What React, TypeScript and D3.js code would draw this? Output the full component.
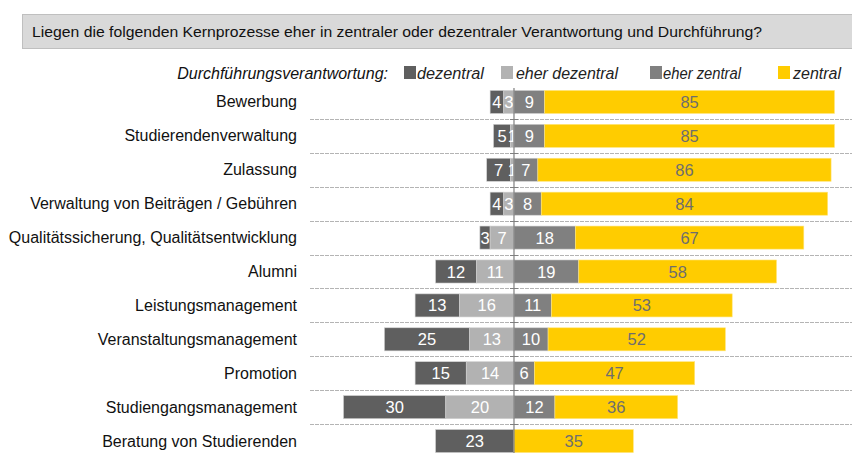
import React from "react";
import * as d3 from "d3";

const categories = [
  "Bewerbung",
  "Studierendenverwaltung",
  "Zulassung",
  "Verwaltung von Beiträgen / Gebühren",
  "Qualitätssicherung, Qualitätsentwicklung",
  "Alumni",
  "Leistungsmanagement",
  "Veranstaltungsmanagement",
  "Promotion",
  "Studiengangsmanagement",
  "Beratung von Studierenden",
];
const dezentral = [4, 5, 7, 4, 3, 12, 13, 25, 15, 30, 23];
const eherDezentral = [3, 1, 1, 3, 7, 11, 16, 13, 14, 20, 0];
const eherZentral = [9, 9, 7, 8, 18, 19, 11, 10, 6, 12, 0];
const zentral = [85, 85, 86, 84, 67, 58, 53, 52, 47, 36, 35];
const legendLabels = ["dezentral", "eher dezentral", "eher zentral", "zentral"];
const colors = ["#5f5f5f", "#b2b2b2", "#808080", "#ffcc00"];
const title =
  "Liegen die folgenden Kernprozesse eher in zentraler oder dezentraler Verantwortung und Durchführung?";

const W = 852;
const H = 453;
const FONT = "'Liberation Sans', Arial, sans-serif";

export default function App() {
  const x = d3.scaleLinear().domain([-50, 94]).range([343.5, 834.5]);
  const y = d3
    .scaleBand<string>()
    .domain(categories)
    .range([85, 458])
    .paddingInner(0.32)
    .paddingOuter(0.16);
  const bh = y.bandwidth();
  const step = y.step();

  const rows = categories.map((c, i) => {
    const segs: { x0: number; x1: number; v: number; k: number }[] = [];
    const d = dezentral[i], ed = eherDezentral[i], ez = eherZentral[i], z = zentral[i];
    segs.push({ x0: -(d + ed), x1: -ed, v: d, k: 0 });
    segs.push({ x0: -ed, x1: 0, v: ed, k: 1 });
    segs.push({ x0: 0, x1: ez, v: ez, k: 2 });
    segs.push({ x0: ez, x1: ez + z, v: z, k: 3 });
    return { c, segs };
  });

  const legendItems = [
    { sx: 404, tx: 417, w: 67 },
    { sx: 501, tx: 516, w: 102 },
    { sx: 650, tx: 663, w: 78 },
    { sx: 778, tx: 793, w: 48 },
  ];

  return (
    <svg width={W} height={H} style={{ position: "absolute", left: 0, top: 0 }} fontFamily={FONT}>
      <rect x={0} y={0} width={W} height={H} fill="#fff" />
      <rect x={22.5} y={14.5} width={840} height={34} fill="#d9d9d9" stroke="#bfbfbf" />
      <text x={32} y={37} fontSize={15.5} fill="#111" textLength={730} lengthAdjust="spacingAndGlyphs">
        {title}
      </text>

      <text x={388} y={79} fontSize={16} fontStyle="italic" textAnchor="end" fill="#111">
        Durchführungsverantwortung:
      </text>
      {legendLabels.map((l, i) => (
        <g key={l}>
          <rect x={legendItems[i].sx} y={66} width={12} height={13} fill={colors[i]} />
          <text
            x={legendItems[i].tx}
            y={79}
            fontSize={16}
            fontStyle="italic"
            fill="#222"
            textLength={legendItems[i].w}
            lengthAdjust="spacingAndGlyphs"
          >
            {l}
          </text>
        </g>
      ))}

      {categories.slice(0, -1).map((c) => {
        const yy = Math.round((y(c) as number) + bh + (step - bh) / 2) + 0.5;
        return (
          <g key={"sep" + c}>
            <line x1={310} x2={W} y1={yy} y2={yy} stroke="#b4b4b4" strokeDasharray="4,1" />
            <line x1={510} x2={518} y1={yy} y2={yy} stroke="#808080" />
          </g>
        );
      })}

      {rows.map((r) => {
        const yy = y(r.c) as number;
        return (
          <g key={r.c}>
            <text x={297} y={yy + bh / 2 + 5.5} fontSize={16} textAnchor="end" fill="#111">
              {r.c}
            </text>
            {r.segs.map((s) =>
              s.v > 0 ? (
                <g key={s.k}>
                  <rect
                    x={x(s.x0)}
                    y={yy}
                    width={x(s.x1) - x(s.x0)}
                    height={bh}
                    fill={colors[s.k]}
                    stroke={s.k === 3 ? "#ffe680" : "#d0d0d0"}
                    strokeWidth={0.6}
                  />
                  <text
                    x={(x(s.x0) + x(s.x1)) / 2}
                    y={yy + bh / 2 + 6}
                    fontSize={16.5}
                    textAnchor="middle"
                    fill={s.k === 3 ? "#6e6e6e" : "#ffffff"}
                  >
                    {s.v}
                  </text>
                </g>
              ) : null
            )}
          </g>
        );
      })}

      <line x1={x(0)} x2={x(0)} y1={88} y2={H} stroke="#7f7f7f" strokeWidth={1.2} />
    </svg>
  );
}
